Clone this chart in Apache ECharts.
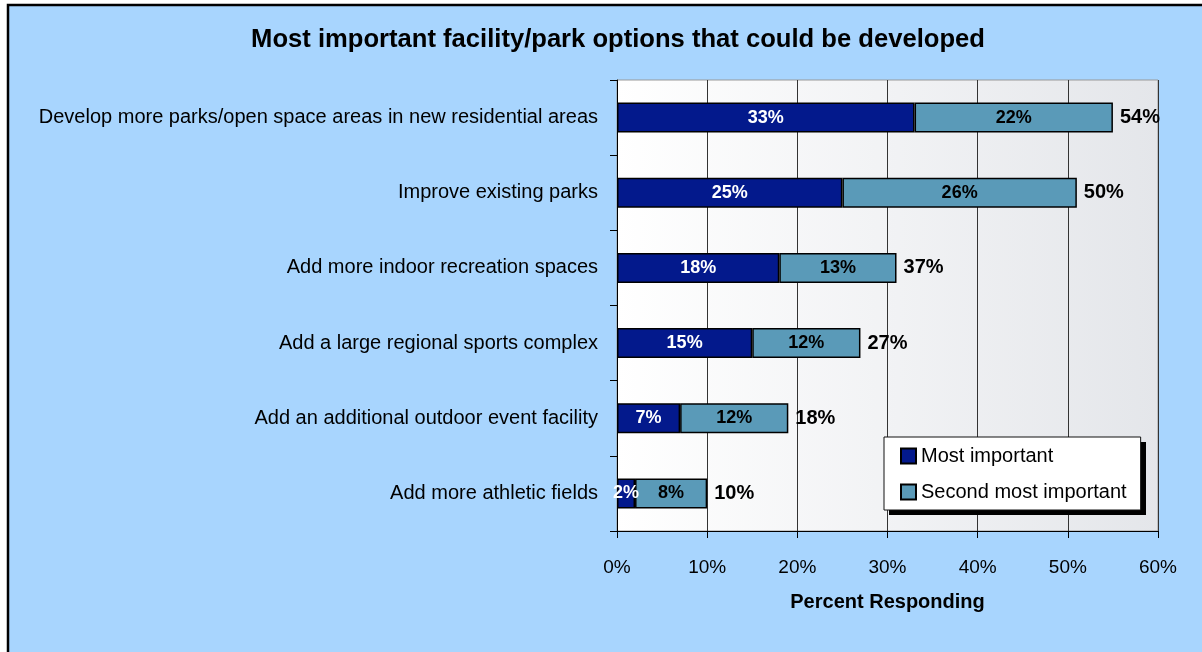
<!DOCTYPE html>
<html>
<head>
<meta charset="utf-8">
<style>
  html, body { margin: 0; padding: 0; background: #ffffff; }
  #chart { width: 1202px; height: 652px; }
</style>
<script src="https://cdn.jsdelivr.net/npm/echarts@6/dist/echarts.min.js"></script>
</head>
<body>
<div id="chart"></div>
<script>
// Survey options, top to bottom
const categories = [
  'Develop more parks/open space areas in new residential areas',
  'Improve existing parks',
  'Add more indoor recreation spaces',
  'Add a large regional sports complex',
  'Add an additional outdoor event facility',
  'Add more athletic fields'
];
// Percent choosing each option as most / second most important
const mostImportant = [33, 25, 18, 15, 7, 2];
const secondMost = [22, 26, 13, 12, 12, 8];
// Reported combined totals
const totalLabels = ['54%', '50%', '37%', '27%', '18%', '10%'];
const xTicks = [0, 10, 20, 30, 40, 50, 60];

const FONT = '"Liberation Sans", Arial, Helvetica, sans-serif';
const NAVY = '#03198c';
const TEAL = '#5a9ab8';

const chart = echarts.init(document.getElementById('chart'));

const endPoints = categories.map((c, i) => [mostImportant[i] + secondMost[i], i]);

chart.setOption({
  backgroundColor: '#ffffff',
  animation: false,
  textStyle: { fontFamily: FONT },
  title: {
    text: 'Most important facility/park options that could be developed',
    left: 613,
    textAlign: 'center',
    top: 22,
    textStyle: { fontFamily: FONT, fontSize: 25.6, fontWeight: 'bold', color: '#000' }
  },
  graphic: [
    {
      // page panel with its dark frame
      type: 'rect',
      z: -10,
      shape: { x: 8, y: 5, width: 1210, height: 660 },
      style: { fill: '#a8d5fe', stroke: '#000', lineWidth: 2.5 }
    },
    {
      // drop shadow behind the legend box
      type: 'rect',
      z: 3,
      shape: { x: 889, y: 442, width: 257, height: 73 },
      style: { fill: '#000' }
    }
  ],
  legend: {
    orient: 'vertical',
    left: 884,
    top: 437,
    z: 5,
    data: ['Most important', 'Second most important'],
    backgroundColor: '#ffffff',
    borderColor: '#111',
    borderWidth: 1,
    padding: [9, 14, 8, 16],
    itemGap: 16,
    itemWidth: 15,
    itemHeight: 15,
    icon: 'rect',
    textStyle: { fontFamily: FONT, fontSize: 20, color: '#000' }
  },
  grid: {
    left: 617,
    right: 44,
    top: 80,
    bottom: 121,
    show: true,
    borderColor: '#999',
    borderWidth: 1,
    backgroundColor: new echarts.graphic.LinearGradient(0, 0, 1, 0, [
      { offset: 0, color: '#ffffff' },
      { offset: 1, color: '#e4e6ea' }
    ])
  },
  xAxis: {
    type: 'value',
    min: xTicks[0],
    max: xTicks[xTicks.length - 1],
    interval: 10,
    name: 'Percent Responding',
    nameLocation: 'middle',
    nameGap: 61,
    nameTextStyle: { fontFamily: FONT, fontSize: 20, fontWeight: 'bold', color: '#000' },
    axisLine: { show: true, lineStyle: { color: '#000', width: 1 } },
    axisTick: { show: true, length: 7, lineStyle: { color: '#000' } },
    axisLabel: {
      formatter: '{value}%',
      margin: 27,
      fontFamily: FONT,
      fontSize: 19,
      color: '#000'
    },
    splitLine: { show: true, lineStyle: { color: '#333', width: 1 } }
  },
  yAxis: {
    type: 'category',
    inverse: true,
    data: categories,
    axisLine: { show: true, lineStyle: { color: '#000', width: 1 } },
    axisTick: { show: true, length: 7, lineStyle: { color: '#000' } },
    axisLabel: { margin: 19, fontFamily: FONT, fontSize: 20, color: '#000' }
  },
  series: [
    {
      name: 'Most important',
      type: 'bar',
      stack: 'total',
      barWidth: 30,
      data: mostImportant,
      itemStyle: { color: NAVY, borderColor: '#000', borderWidth: 1.5 },
      label: {
        show: true,
        position: 'inside',
        formatter: '{c}%',
        fontFamily: FONT,
        fontSize: 18,
        fontWeight: 'bold',
        color: '#fff'
      }
    },
    {
      name: 'Second most important',
      type: 'bar',
      stack: 'total',
      barWidth: 30,
      data: secondMost,
      itemStyle: { color: TEAL, borderColor: '#000', borderWidth: 1.5 },
      label: {
        show: true,
        position: 'inside',
        formatter: '{c}%',
        fontFamily: FONT,
        fontSize: 18,
        fontWeight: 'bold',
        color: '#000'
      }
    },
    {
      name: 'totals',
      type: 'scatter',
      data: endPoints,
      symbolSize: 0,
      silent: true,
      itemStyle: { opacity: 1 },
      label: {
        show: true,
        position: 'right',
        distance: 7,
        formatter: p => totalLabels[p.dataIndex],
        fontFamily: FONT,
        fontSize: 20,
        fontWeight: 'bold',
        color: '#000',
        opacity: 1
      }
    }
  ]
});
</script>
</body>
</html>
